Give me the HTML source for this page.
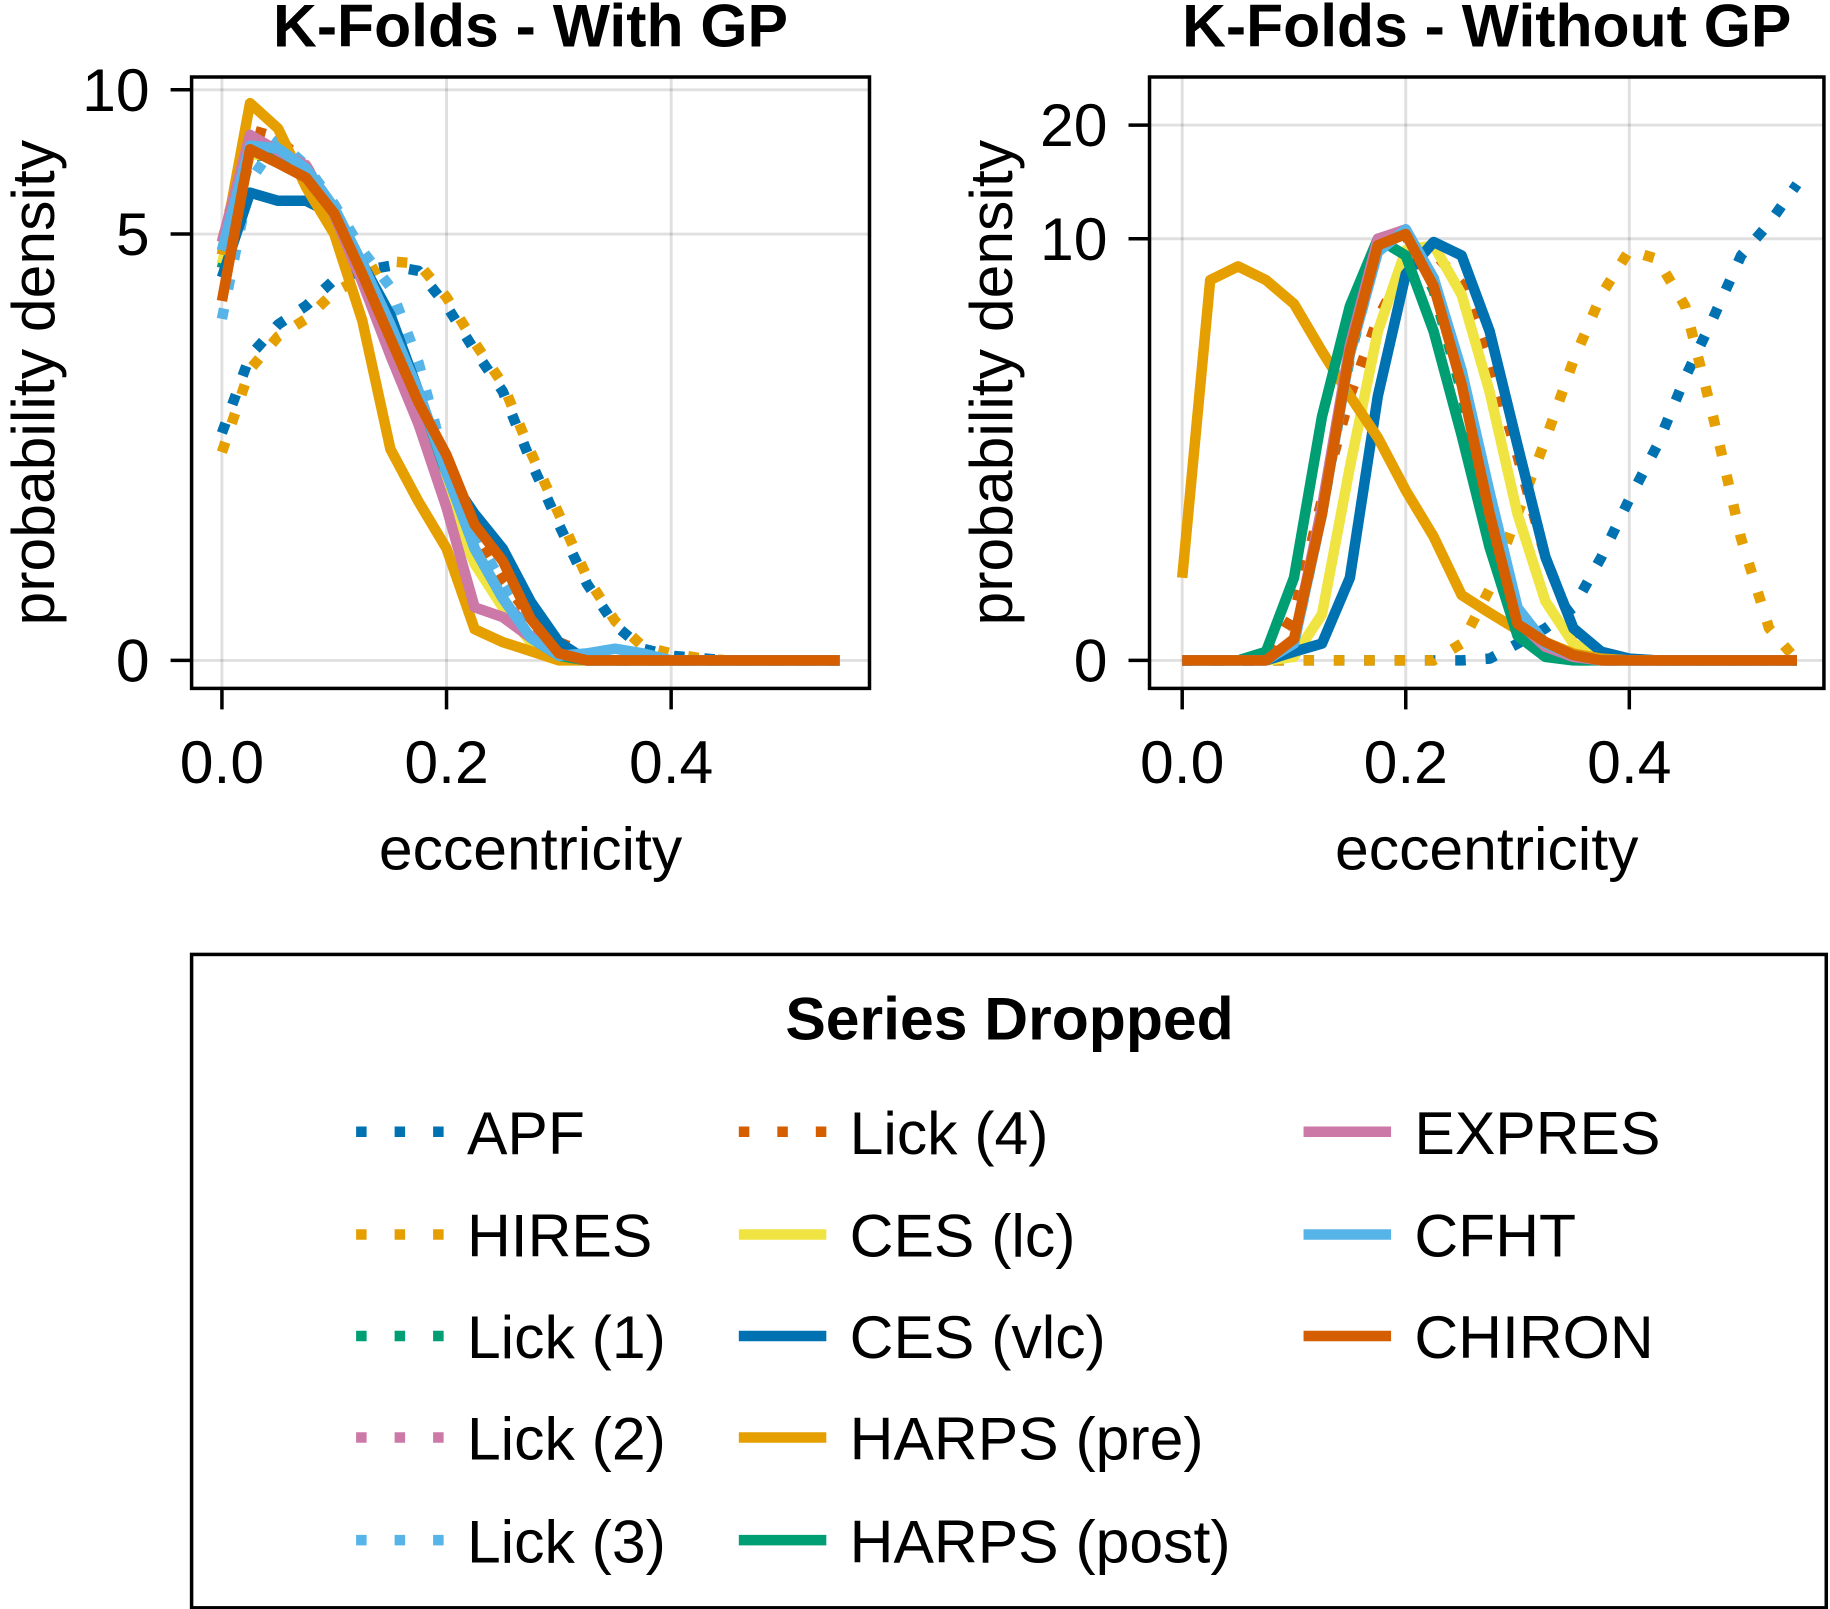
<!DOCTYPE html>
<html><head><meta charset="utf-8"><style>
html,body{margin:0;padding:0;background:#fff}
svg{display:block}
text{font-family:"Liberation Sans",sans-serif;fill:#000}
</style></head><body>
<svg id="chart" width="1830" height="1609" viewBox="0 0 1568 1379" xmlns="http://www.w3.org/2000/svg">
<defs>
<clipPath id="clipL"><rect x="164" y="66" width="581" height="524"/></clipPath>
<clipPath id="clipR"><rect x="985" y="66" width="578" height="524"/></clipPath>
</defs>
<g id="plotL"></g>
<g id="plotR"></g>
<g id="legend">
<rect x="164" y="818" width="1401" height="560" fill="none" stroke="#000" stroke-width="3"/>
<text x="865" y="891" text-anchor="middle" font-size="52" font-weight="bold">Series Dropped</text>
</g>
</svg>
<script>
const xs = [0,0.025,0.05,0.075,0.1,0.125,0.15,0.175,0.2,0.225,0.25,0.275,0.3,0.325,0.35,0.375,0.4,0.425,0.45,0.475,0.5,0.525,0.55];
const names = ["APF","HIRES","Lick (1)","Lick (2)","Lick (3)","Lick (4)","CES (lc)","CES (vlc)","HARPS (pre)","HARPS (post)","EXPRES","CFHT","CHIRON"];
const colors = ["#0072B2","#E69F00","#009E73","#CC79A7","#56B4E9","#D55E00","#F0E442","#0072B2","#E69F00","#009E73","#CC79A7","#56B4E9","#D55E00"];
const dotted = [true,true,true,true,true,true,false,false,false,false,false,false,false];
// With GP panel values
const gpAPF   = [1.6,2.6,3.1,3.44,3.95,4.14,4.25,4.14,3.44,2.68,2.1,1.31,0.77,0.38,0.16,0.05,0.02,0.01,0,0,0,0,0];
const gpHIRES = [1.4,2.4,2.9,3.2,3.7,4.0,4.35,4.3,3.6,2.8,2.2,1.4,0.85,0.42,0.18,0.06,0.03,0.01,0,0,0,0,0];
const gpLick1 = [4.2,7.3,7.4,6.8,5.6,4.1,2.9,1.9,1.2,0.6,0.3,0.1,0.02,0,0,0,0,0,0,0,0,0,0];
const gpLick2 = [4.5,7.8,7.6,6.9,5.5,4.0,2.8,1.8,1.1,0.55,0.3,0.12,0.05,0.02,0,0,0,0,0,0,0,0,0];
const gpLick3 = [3.2,6.5,7.9,7.0,5.8,4.6,3.8,2.5,1.26,0.7,0.38,0.15,0.05,0.02,0,0,0,0,0,0,0,0,0];
const gpLick4 = [4.8,8.3,8.0,7.0,5.6,4.1,2.9,1.9,1.25,0.7,0.4,0.2,0.08,0.03,0,0,0,0,0,0,0,0,0];
const gpCESlc = [4.3,7.4,7.3,6.8,5.6,4.0,2.8,1.7,1.0,0.5,0.25,0.08,0.01,0,0,0,0,0,0,0,0,0,0];
const gpCESvlc= [4.0,6.14,5.9,5.9,5.5,4.3,3.27,2.1,1.2,0.85,0.6,0.28,0.08,0,0,0,0,0,0,0,0,0,0];
const gpHpre  = [4.5,9.4,8.35,6.3,5.0,3.17,1.43,0.95,0.6,0.14,0.08,0.04,0,0,0,0,0,0,0,0,0,0,0];
const gpHpost = [4.6,7.6,7.3,6.8,5.6,4.1,2.9,1.9,1.2,0.6,0.3,0.1,0.02,0,0,0,0,0,0,0,0,0,0];
const gpEXPRES= [4.8,8.1,7.5,7.0,5.5,3.9,2.6,1.7,0.9,0.25,0.2,0.1,0.03,0,0,0,0,0,0,0,0,0,0];
const gpCFHT  = [4.6,7.7,7.6,6.9,5.7,4.3,3.1,2.1,1.2,0.6,0.3,0.1,0.02,0.03,0.05,0.03,0,0,0,0,0,0,0];
const gpCHIRON= [3.53,7.57,7.08,6.6,5.54,4.07,2.87,1.96,1.37,0.77,0.52,0.19,0.03,0,0,0,0,0,0,0,0,0,0];
// Without GP panel values
const ngAPF   = [0,0,0,0,0,0,0,0,0,0,0,0.01,0.1,0.2,0.35,0.8,1.5,2.4,4.0,6.0,9.0,11,14];
const ngHIRES = [0,0,0,0,0,0,0,0,0,0,0.1,0.5,1.3,2.5,4.5,7.0,9.3,8.8,6.5,3.0,1.0,0.2,0];
const ngLick1 = [0,0,0,0,0.1,1.3,4.6,9.4,10.2,7.2,3.6,1.2,0.2,0.05,0,0,0,0,0,0,0,0,0];
const ngLick2 = [0,0,0,0,0.12,1.35,4.8,9.8,10.5,7.5,3.8,1.3,0.25,0.08,0.02,0,0,0,0,0,0,0,0];
const ngLick3 = [0,0,0,0,0.1,1.3,4.7,9.5,10.6,7.6,3.9,1.4,0.3,0.1,0.03,0,0,0,0,0,0,0,0];
const ngLick4 = [0,0,0,0,0.3,1.5,3.5,6.0,8.5,9.2,7.5,4.5,2.2,0.8,0.2,0.03,0,0,0,0,0,0,0];
const ngCESlc = [0,0,0,0,0.02,0.3,2.0,5.5,9.3,9.6,7.0,3.6,1.3,0.4,0.1,0.02,0,0,0,0,0,0,0];
const ngCESvlc= [0,0,0,0,0.05,0.1,0.6,3.5,8.0,9.8,9.0,5.5,2.4,0.8,0.2,0.05,0.01,0,0,0,0,0,0];
const ngHpre  = [0.6,7.7,8.4,7.7,6.6,4.8,3.5,2.55,1.63,1.02,0.45,0.31,0.19,0.11,0.04,0.01,0,0,0,0,0,0,0];
const ngHpost = [0,0,0,0.05,0.6,3.0,6.5,10.0,9.0,5.5,2.6,0.9,0.15,0.02,0,0,0,0,0,0,0,0,0];
const ngEXPRES= [0,0,0,0,0.12,1.4,5.0,10.0,10.6,7.6,3.9,1.3,0.25,0.08,0.02,0,0,0,0,0,0,0,0];
const ngCFHT  = [0,0,0,0,0.1,1.3,4.7,9.2,10.6,7.8,4.2,1.6,0.35,0.1,0.03,0,0,0,0,0,0,0,0];
const ngCHIRON= [0,0,0,0,0.13,1.3,4.8,9.6,10.3,7.4,3.8,1.3,0.23,0.11,0.03,0,0,0,0,0,0,0,0];
const gpSeries = [gpAPF,gpHIRES,gpLick1,gpLick2,gpLick3,gpLick4,gpCESlc,gpCESvlc,gpHpre,gpHpost,gpEXPRES,gpCFHT,gpCHIRON];
const ngSeries = [ngAPF,ngHIRES,ngLick1,ngLick2,ngLick3,ngLick4,ngCESlc,ngCESvlc,ngHpre,ngHpost,ngEXPRES,ngCFHT,ngCHIRON];
const xTicks = [0,0.2,0.4];
const xTickLabels = ["0.0","0.2","0.4"];
const gpYTicks = [0,5,10];
const ngYTicks = [0,10,20];

const NS = "http://www.w3.org/2000/svg";
function mk(tag, attrs, parent){const e=document.createElementNS(NS,tag);for(const k in attrs)e.setAttribute(k,attrs[k]);parent.appendChild(e);return e;}

function drawPanel(g, box, x0px, xScale, y0px, kDecade, yTicks, series, title, clipId, prefix){
  const xf = v => x0px + v*xScale;
  const yf = v => y0px - kDecade*Math.log10(1+v);
  xTicks.forEach((t,i)=>{
    const l=mk("line",{x1:xf(t),x2:xf(t),y1:box.y,y2:box.y+box.h,stroke:"#000","stroke-opacity":0.12,"stroke-width":2.5},g);
    
    
    const tk=mk("line",{x1:xf(t),x2:xf(t),y1:box.y+box.h,y2:box.y+box.h+18,stroke:"#000","stroke-width":3},g);
    
    
    const tx=mk("text",{x:xf(t),y:671,"text-anchor":"middle","font-size":52},g);
    tx.textContent=xTickLabels[i];
    
    
  });
  yTicks.forEach(t=>{
    const l=mk("line",{x1:box.x,x2:box.x+box.w,y1:yf(t),y2:yf(t),stroke:"#000","stroke-opacity":0.12,"stroke-width":2.5},g);
    
    
    const tk=mk("line",{x1:box.x-18,x2:box.x,y1:yf(t),y2:yf(t),stroke:"#000","stroke-width":3},g);
    
    
    const tx=mk("text",{x:box.x-36,y:yf(t)+18,"text-anchor":"end","font-size":52},g);
    tx.textContent=String(t);
    
    
  });
  const cg=mk("g",{"clip-path":"url(#"+clipId+")"},g);
  series.forEach((arr,i)=>{
    let d="";
    arr.forEach((v,j)=>{d+=(j?"L":"M")+xf(xs[j]).toFixed(1)+","+yf(v).toFixed(1);});
    const p=mk("path",{d:d,fill:"none",stroke:colors[i],"stroke-width":9,"stroke-linejoin":"round"},cg);
    if(dotted[i]) p.setAttribute("stroke-dasharray","9 17");
    
    
  });
  const r=mk("rect",{x:box.x,y:box.y,width:box.w,height:box.h,fill:"none",stroke:"#000","stroke-width":3},g);
  
  
  const tt=mk("text",{x:box.x+box.w/2,y:40,"text-anchor":"middle","font-size":52,"font-weight":"bold"},g);
  tt.textContent=title;
  
  
  const xl=mk("text",{x:box.x+box.w/2,y:745,"text-anchor":"middle","font-size":52},g);
  xl.textContent="eccentricity";
  
  
  const yx=box.x-118, yy=box.y+box.h/2;
  const yl=mk("text",{x:yx,y:yy,"text-anchor":"middle","font-size":52,transform:"rotate(-90 "+yx+" "+yy+")"},g);
  yl.textContent="probability density";
  
  
}
drawPanel(document.getElementById("plotL"),{x:164,y:66,w:581,h:524},190,962.5,566,469.6,gpYTicks,gpSeries,"K-Folds - With GP","clipL","gp");
drawPanel(document.getElementById("plotR"),{x:985,y:66,w:578,h:524},1013,958,566,347,ngYTicks,ngSeries,"K-Folds - Without GP","clipR","nogp");

const lg=document.getElementById("legend");
const colX=[305,633,1117];
const rowY=[970,1058,1145,1232,1320];
names.forEach((n,i)=>{
  const c=Math.floor(i/5), r=i%5;
  const eg=mk("g",{},lg);
  
  
  const ln=mk("line",{x1:colX[c],x2:colX[c]+75,y1:rowY[r],y2:rowY[r],stroke:colors[i],"stroke-width":9},eg);
  if(dotted[i]) ln.setAttribute("stroke-dasharray","9 24");
  
  
  const tx=mk("text",{x:colX[c]+95,y:rowY[r]+19,"font-size":52},eg);
  tx.textContent=n;
  
  
});
</script>
</body></html>
